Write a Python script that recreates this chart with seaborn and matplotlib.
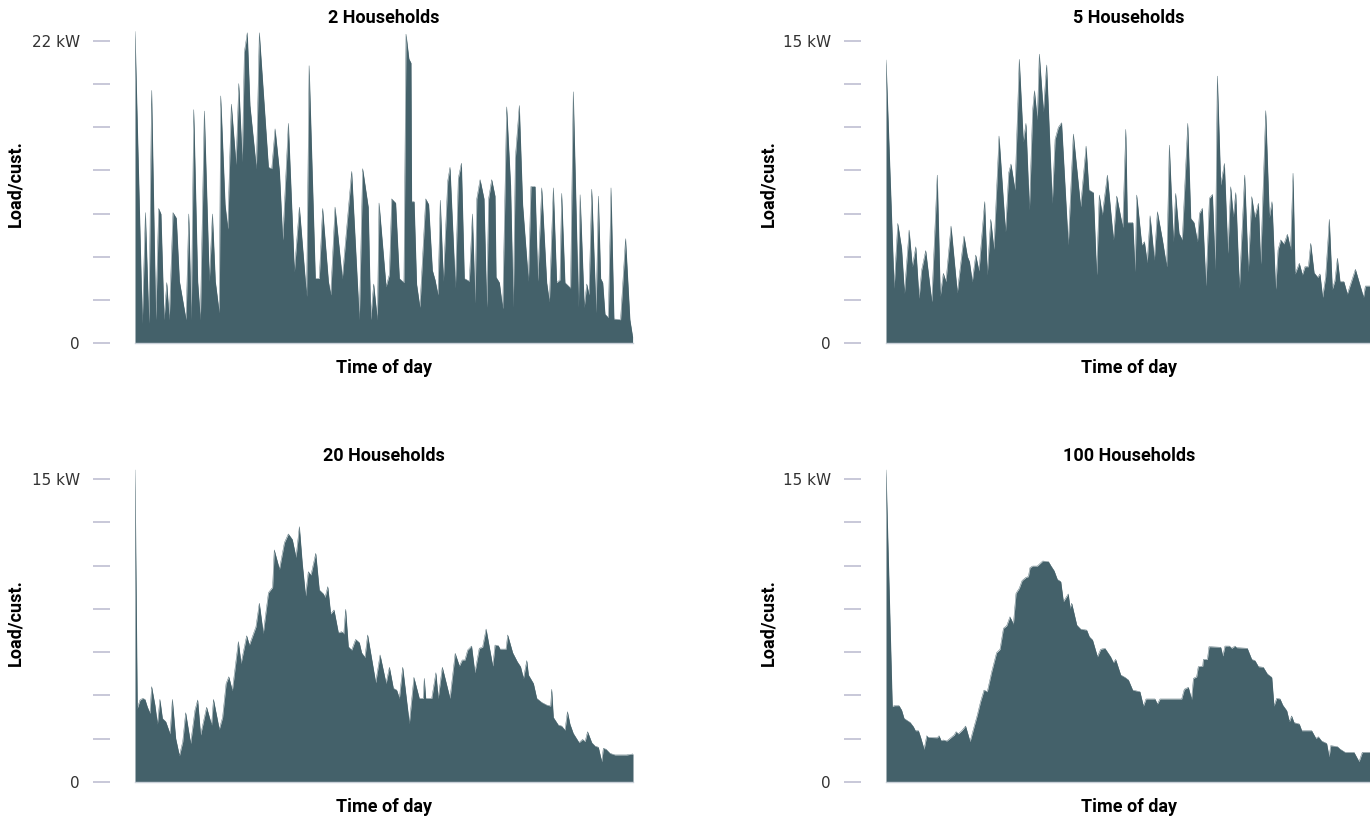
import numpy as np
import pandas as pd
import matplotlib
matplotlib.use("Agg")
import matplotlib.pyplot as plt
import seaborn as sns

# ---------------- data (time of day in hours, load per customer in kW) -------------
hours_2 = [0.0, 0.35, 0.50, 0.67, 0.80, 1.00, 1.14, 1.25, 1.40, 1.53, 1.65, 1.83, 1.99, 2.14, 2.46, 2.59, 2.71, 2.83,
           3.02, 3.15, 3.34, 3.58, 3.73, 3.87, 4.06, 4.13, 4.34, 4.47, 4.64, 4.87, 5.00, 5.17, 5.27, 5.41, 5.54, 5.85,
           5.99, 6.43, 6.59, 6.75, 6.96, 7.12, 7.39, 7.68, 7.92, 8.27, 8.39, 8.69, 8.88, 9.04, 9.32, 9.43, 9.64, 9.99,
           10.44, 10.81, 10.97, 11.24, 11.36, 11.50, 11.68, 11.76, 12.10, 12.26, 12.37, 12.56, 12.74, 12.96, 13.06,
           13.20, 13.30, 13.33, 13.45, 13.57, 13.73, 14.01, 14.15, 14.33, 14.46, 14.60, 14.71, 14.86, 15.07, 15.18,
           15.44, 15.58, 15.73, 15.87, 16.11, 16.26, 16.39, 16.47, 16.63, 16.82, 16.95, 17.04, 17.19, 17.35, 17.40,
           17.56, 17.72, 17.91, 18.10, 18.23, 18.33, 18.52, 18.68, 18.96, 19.08, 19.28, 19.41, 19.60, 19.84, 19.97,
           20.16, 20.32, 20.48, 20.56, 20.72, 20.99, 21.12, 21.37, 21.45, 21.65, 21.77, 21.88, 22.01, 22.22, 22.33,
           22.44, 22.54, 22.65, 22.81, 22.94, 23.08, 23.40, 23.64, 23.85, 23.98]
load_2 = [22.7, 1.43, 9.5, 1.43, 18.4, 1.7, 9.8, 9.4, 1.7, 4.4, 1.7, 9.5, 9.1, 4.5, 1.7, 9.4, 1.7, 17.0,
          4.5, 1.7, 16.9, 4.5, 9.4, 4.5, 2.2, 18.0, 10.1, 8.3, 17.4, 13.0, 18.9, 13.2, 21.2, 22.6, 17.3, 12.7,
          22.6, 12.8, 12.7, 15.6, 12.5, 7.5, 16.0, 5.2, 9.9, 3.4, 20.2, 4.7, 4.7, 9.8, 4.5, 3.5, 9.9, 4.7,
          12.5, 1.7, 12.7, 9.9, 1.7, 4.3, 1.7, 10.2, 4.1, 5.0, 10.5, 10.2, 4.7, 4.4, 22.5,
          20.7, 20.4, 10.3, 10.3, 4.3, 2.6, 10.5, 10.1, 5.3, 4.6, 3.5, 10.4, 4.5, 11.8, 12.8,
          4.0, 12.0, 13.1, 4.7, 4.5, 9.4, 2.9, 10.5, 11.9, 10.5, 2.6, 10.5, 11.9, 10.7, 4.8,
          4.4, 2.5, 17.2, 11.5, 2.6, 13.5, 17.3, 10.1, 4.5, 11.4, 11.4, 4.5, 11.3, 4.4, 3.0,
          11.3, 4.4, 4.6, 10.9, 4.4, 4.0, 18.3, 2.6, 10.8, 2.6, 4.3, 3.5, 11.2, 2.2, 10.7,
          4.7, 4.4, 2.1, 1.85, 11.3, 1.75, 1.7, 7.6, 1.7, 0.46]

hours_5 = [0.0, 0.40, 0.58, 0.77, 0.91, 1.14, 1.30, 1.47, 1.63, 1.76, 1.96, 2.26, 2.53, 2.68, 2.83, 2.96, 3.21,
           3.52, 3.85, 4.02, 4.12, 4.26, 4.43, 4.59, 4.87, 5.00, 5.17, 5.33, 5.58, 5.90, 6.06, 6.17, 6.37, 6.58,
           6.78, 6.91, 7.08, 7.24, 7.33, 7.47, 7.57, 7.77, 7.93, 8.21, 8.35, 8.51, 8.67, 9.00, 9.25, 9.61, 9.88,
           10.02, 10.24, 10.40, 10.53, 10.68, 10.93, 11.23, 11.39, 11.69, 11.84, 11.92, 12.19, 12.30, 12.38,
           12.63, 12.76, 12.90, 13.04, 13.25, 13.40, 13.65, 13.86, 13.99, 14.19, 14.30, 14.47, 14.63, 14.90,
           15.05, 15.21, 15.38, 15.48, 15.62, 15.80, 15.97, 16.12, 16.26, 16.36, 16.53, 16.71, 16.88, 17.02,
           17.15, 17.27, 17.45, 17.71, 17.89, 18.06, 18.21, 18.39, 18.50, 18.75, 18.93, 19.06, 19.24, 19.36,
           19.49, 19.65, 19.82, 19.98, 20.10, 20.20, 20.41, 20.56, 20.69, 20.86, 20.97, 21.14, 21.32, 21.43,
           21.56, 21.71, 21.89, 22.04, 22.17, 22.29, 22.42, 22.61, 22.78, 23.18, 23.58, 23.67, 24.0]
load_5 = [14.06, 2.72, 5.94, 4.70, 2.47, 5.61, 3.79, 4.78, 2.22, 3.63, 4.59, 2.05, 8.34, 2.33, 3.46, 3.05, 5.81,
          2.50, 5.31, 4.29, 4.04, 3.05, 4.37, 3.58, 7.02, 3.38, 6.14, 4.65, 10.28, 5.53, 8.46, 8.89, 7.60, 14.09,
          10.00, 10.91, 6.61, 11.57, 12.53, 11.08, 14.35, 11.49, 13.81, 6.94, 10.12, 10.71, 10.94, 4.87, 10.38,
          6.77, 9.78, 7.60, 7.47, 3.38, 7.35, 6.36, 8.34, 5.12, 7.30, 5.74, 10.61, 5.98, 5.98, 3.54, 7.35,
          4.87, 5.03, 3.99, 6.32, 4.12, 6.52, 5.12, 3.79, 9.83, 5.03, 7.43, 5.45, 5.12, 10.91,
          6.19, 5.98, 5.03, 6.44, 6.69, 2.83, 7.19, 7.38, 3.63, 13.26, 7.85, 8.92, 4.45, 7.76,
          6.27, 7.47, 2.72, 8.34, 3.54, 7.27, 6.24, 6.94, 3.92, 11.54, 6.24, 7.02, 2.67, 4.62,
          5.12, 4.92, 5.40, 4.65, 8.43, 3.43, 3.96, 3.38, 3.79, 3.79, 4.95, 3.49, 3.26, 3.43,
          2.27, 3.29, 6.14, 2.67, 3.10, 4.21, 3.05, 3.05, 2.43, 3.66, 2.27, 2.83, 2.83]

hours_20 = [0.0, 0.11, 0.24, 0.37, 0.48, 0.59, 0.72, 0.80, 0.96, 1.08, 1.20, 1.32, 1.48, 1.69, 1.80, 1.96, 2.14,
            2.30, 2.44, 2.68, 2.89, 3.02, 3.16, 3.45, 3.69, 3.78, 4.06, 4.22, 4.39, 4.52, 4.69, 4.98, 5.11, 5.38,
            5.51, 5.83, 5.99, 6.18, 6.43, 6.63, 6.71, 6.96, 7.20, 7.39, 7.58, 7.76, 7.92, 8.06, 8.22, 8.35, 8.48,
            8.71, 8.88, 9.08, 9.16, 9.29, 9.43, 9.59, 9.80, 9.96, 10.06, 10.15, 10.28, 10.44, 10.63, 10.81, 10.92,
            11.08, 11.21, 11.60, 11.81, 12.10, 12.26, 12.45, 12.61, 12.74, 12.90, 13.22, 13.44, 13.70, 13.89,
            13.94, 14.01, 14.30, 14.50, 14.61, 14.81, 15.18, 15.43, 15.63, 15.77, 15.90, 16.03, 16.22, 16.38,
            16.59, 16.75, 16.92, 17.24, 17.35, 17.51, 17.59, 17.88, 17.96, 18.20, 18.42, 18.58, 18.72, 18.88,
            18.96, 19.20, 19.36, 19.60, 19.84, 20.03, 20.08, 20.16, 20.40, 20.56, 20.72, 20.84, 20.96, 21.12,
            21.40, 21.57, 21.69, 21.81, 22.01, 22.17, 22.33, 22.49, 22.57, 22.70, 22.89, 23.13, 23.69, 24.0]
load_20 = [15.45, 3.65, 4.06, 4.14, 4.09, 3.73, 3.40, 4.72, 3.81, 2.87, 4.09, 3.15, 2.99, 2.38, 4.09, 2.16, 1.30,
           2.00, 3.43, 1.91, 3.56, 4.06, 2.33, 3.70, 2.82, 4.09, 2.61, 3.20, 4.88, 5.21, 4.52, 6.95, 5.87, 7.24,
           6.78, 7.69, 8.85, 7.36, 9.37, 9.64, 11.49, 10.53, 11.85, 12.28, 12.01, 11.12, 12.64, 10.83, 9.21, 10.41,
           10.25, 11.32, 9.51, 9.31, 9.14, 9.67, 8.32, 8.52, 7.39, 7.44, 7.33, 8.55, 6.70, 6.53, 7.06, 6.90, 6.40,
           6.17, 7.28, 4.92, 6.29, 4.88, 5.68, 4.64, 4.55, 4.14, 5.68, 2.90, 5.18, 4.14, 4.14,
           5.13, 4.14, 4.14, 5.41, 4.14, 5.68, 4.14, 6.37, 5.74, 6.04, 6.04, 6.53, 6.73, 5.41,
           6.62, 6.67, 7.57, 5.74, 6.78, 6.75, 6.58, 6.58, 7.28, 6.40, 5.96, 5.71, 5.13, 6.01,
           5.30, 4.88, 4.14, 3.94, 3.81, 3.76, 4.59, 3.20, 2.82, 2.77, 2.57, 3.48, 2.87, 2.41,
           1.95, 2.11, 2.00, 2.49, 1.95, 1.78, 1.72, 1.01, 1.67, 1.62, 1.42, 1.34, 1.34, 1.39]

hours_100 = [0.0, 0.31, 0.41, 0.64, 0.77, 0.89, 1.05, 1.19, 1.35, 1.45, 1.60, 1.71, 1.88, 2.01, 2.09, 2.53, 2.62,
             2.72, 2.83, 3.00, 3.16, 3.37, 3.46, 3.57, 3.74, 3.93, 4.15, 4.35, 4.51, 4.67, 4.84, 5.00, 5.22, 5.46,
             5.63, 5.80, 5.96, 6.12, 6.29, 6.42, 6.58, 6.72, 6.91, 7.03, 7.11, 7.24, 7.47, 7.74, 8.02, 8.15, 8.30,
             8.46, 8.63, 8.76, 9.00, 9.09, 9.17, 9.42, 9.61, 9.91, 10.04, 10.20, 10.44, 10.60, 10.81, 11.09, 11.23,
             11.34, 11.59, 11.80, 11.97, 12.18, 12.54, 12.71, 12.84, 13.28, 13.40, 13.53, 14.60, 14.73, 14.93,
             15.09, 15.18, 15.34, 15.42, 15.64, 15.67, 15.87, 15.95, 16.53, 16.63, 16.74, 16.96, 17.07, 17.23,
             17.32, 17.84, 18.06, 18.22, 18.39, 18.63, 18.83, 19.05, 19.16, 19.29, 19.46, 19.59, 19.79, 19.92,
             20.03, 20.15, 20.41, 20.53, 21.02, 21.23, 21.35, 21.51, 21.76, 21.88, 21.96, 22.29, 22.42, 22.67,
             23.11, 23.36, 23.52, 24.0]
load_100 = [15.45, 3.73, 3.78, 3.78, 3.56, 3.15, 3.04, 2.95, 2.74, 2.54, 2.54, 2.21, 1.62, 2.29, 2.21, 2.19, 2.29,
            2.05, 2.08, 2.03, 2.16, 2.33, 2.49, 2.38, 2.54, 2.77, 2.00, 2.74, 3.32, 3.98, 4.55, 4.47, 5.46, 6.40,
            6.57, 7.61, 7.74, 8.18, 7.82, 9.34, 9.59, 9.97, 10.13, 10.17, 10.61, 10.69, 10.69, 10.94, 10.91, 10.69,
            10.46, 10.03, 9.92, 8.93, 9.31, 8.60, 8.85, 7.77, 7.57, 7.52, 7.19, 7.03, 6.20, 6.57, 6.62, 6.20, 5.91,
            6.07, 5.30, 5.18, 5.05, 4.55, 4.47, 3.76, 4.11, 4.11, 3.86, 4.11, 4.11, 4.59, 4.69,
            4.09, 5.13, 5.21, 5.71, 5.74, 6.07, 6.07, 6.70, 6.67, 6.24, 6.73, 6.73, 6.62, 6.73,
            6.65, 6.62, 6.07, 6.01, 5.71, 5.68, 5.35, 5.18, 3.76, 4.14, 4.11, 3.81, 3.53, 2.99,
            3.27, 2.94, 2.87, 2.54, 2.54, 2.16, 2.24, 2.03, 1.91, 1.25, 1.80, 1.75, 1.63, 1.47,
            1.47, 1.01, 1.47, 1.47]

titles = ["2 Households", "5 Households", "20 Households", "100 Households"]
tick_max = [22, 15, 15, 15]
x_label = "Time of day"
y_label = "Load/cust."

# ---------------- styling -------------------------------------------------------------
sns.set_theme(style="white")
plt.rcParams['font.family'] = ['DejaVu Sans']

FILL = "#44616a"
TICK_C = "#c8c8d8"
BOLD_FONT = ['Roboto', 'DejaVu Sans']

W, H = 1370, 818
fig = plt.figure(figsize=(W / 100, H / 100), dpi=100)

series = [(hours_2, load_2), (hours_5, load_5), (hours_20, load_20), (hours_100, load_100)]
# layout in pixels: (left, width, baseline, span of tick range)
layout = [(135, 498, 343, 302), (886, 486, 343, 302), (135, 498, 782, 303), (886, 486, 782, 303)]
PX2PT = 72 / 100

for (t, v), title, tmax, (x0, w, base, span) in zip(series, titles, tick_max, layout):
    extra = 1.045
    hpx = span * extra
    ax = fig.add_axes([x0 / W, (H - base) / H, w / W, hpx / H])
    df = pd.DataFrame({"hour": t, "load": v})
    ax.fill_between(df["hour"], df["load"], 0, color=FILL, lw=0)
    sns.lineplot(data=df, x="hour", y="load", ax=ax, color=FILL, linewidth=0.3, sort=False)
    ax.set_xlim(0, 24)
    ax.set_ylim(0, tmax * extra)
    ticks = np.linspace(0, tmax, 8)
    ax.set_yticks(ticks)
    ax.set_yticklabels(["0"] + [""] * 6 + [f"{tmax} kW"])
    ax.set_xticks([])
    for s in ["top", "right"]:
        ax.spines[s].set_visible(False)
    ax.spines["left"].set_position(("outward", 25 * PX2PT))
    ax.spines["left"].set_visible(False)
    ax.spines["bottom"].set_color("#c9d0d8")
    ax.spines["bottom"].set_linewidth(1.0)
    ax.tick_params(axis="y", left=True, length=17 * PX2PT, width=1.4, color=TICK_C,
                   pad=13 * PX2PT, labelsize=11, labelcolor="#333333")
    ax.set_title(title, fontsize=13, fontweight="bold", family=BOLD_FONT, pad=3, color="black")
    ax.set_xlabel(x_label, fontsize=13, fontweight="bold", family=BOLD_FONT, labelpad=11.5, color="black")
    ax.set_ylabel(y_label, fontsize=13, fontweight="bold", family=BOLD_FONT, color="black")
    ax.yaxis.set_label_coords((24 - 135) / 498 if x0 < 500 else (777 - 886) / 486, 0.527 / extra)
    ax.grid(False)

fig.savefig("out.png", dpi=100, facecolor="white")
